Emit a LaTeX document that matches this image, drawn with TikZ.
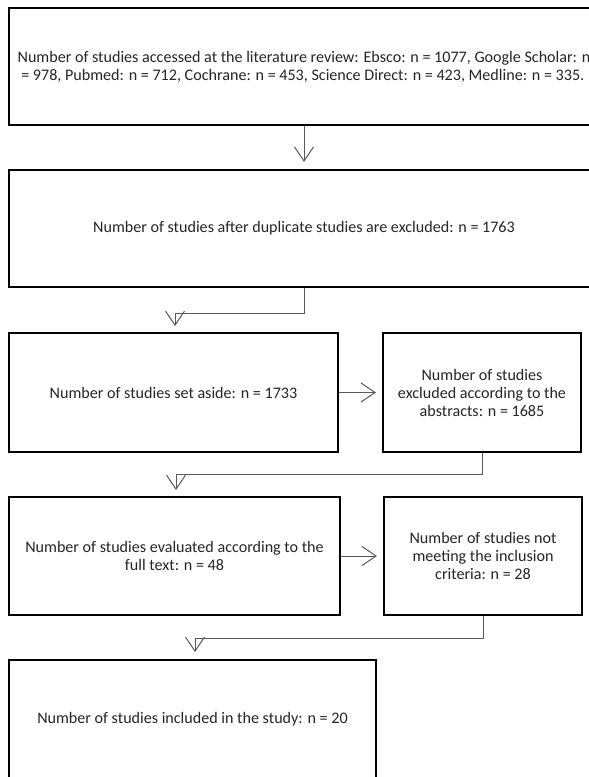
\documentclass[tikz,border=0pt]{standalone}
\usepackage{fontspec}
\setmainfont{Carlito}
\usetikzlibrary{arrows.meta,positioning}

\begin{document}
\begin{tikzpicture}[x=1pt, y=-1pt,
	box/.style={rectangle, draw=black, line width=2.2pt, inner sep=4pt, text=black!85,
		font=\fontsize{16.1}{18}\selectfont, align=center},
	flow/.style={draw=black!65, line width=1pt, -{Straight Barb[length=14pt, width=19pt]}}]
		\useasboundingbox (0,0) rectangle (589,777);
		\clip (0,0) rectangle (589,777);
		\fill[white] (0,0) rectangle (589,777);

		\node[box, align=left, minimum width=590pt, minimum height=117pt] (accessed) at (304,66.5)
			{Number of studies accessed at the literature review: Ebsco: n = 1077, Google Scholar: n\\
			\ = 978, Pubmed: n = 712, Cochrane: n = 453, Science Direct: n = 423, Medline: n = 335.};
		\node[box, minimum width=590pt, minimum height=117pt] (dedup) at (304,228.5)
			{Number of studies after duplicate studies are excluded: n = 1763};

		\node[box, minimum width=329pt, minimum height=119pt] (setaside) at (173.5,392.5)
			{Number of studies set aside: n = 1733};
		\node[box, minimum width=198pt, minimum height=119pt] (abstracts) at (482,392.5)
			{Number of studies\\ excluded according to the\\ abstracts: n = 1685};

		\node[box, minimum width=331pt, minimum height=118pt] (fulltext) at (174.5,556)
			{Number of studies evaluated according to the\\ full text: n = 48};
		\node[box, minimum width=198pt, minimum height=118pt] (criteria) at (483,556)
			{Number of studies not\\ meeting the inclusion\\ criteria: n = 28};

		\node[box, minimum width=367pt, minimum height=119pt] (included) at (192.5,719.5)
			{Number of studies included in the study: n = 20};

		% arrow tips
		\coordinate (tipa) at (175,326);
		\coordinate (tipb) at (176,490);
		\coordinate (tipc) at (195,652);

		\draw[flow] (accessed.south) -- ([yshift=7pt]dedup.north);
		\draw[flow] (dedup.south) -- ++(0,25) -| (tipa);
		\draw[flow] (setaside.east) -- ([xshift=-6pt]abstracts.west);
		\draw[flow] (abstracts.south) -- ++(0,21) -| (tipb);
		\draw[flow] (fulltext.east) -- ([xshift=-6pt]criteria.west);
		\draw[flow] (criteria.south) -- ++(0,22) -| (tipc);
	\end{tikzpicture}
\end{document}
